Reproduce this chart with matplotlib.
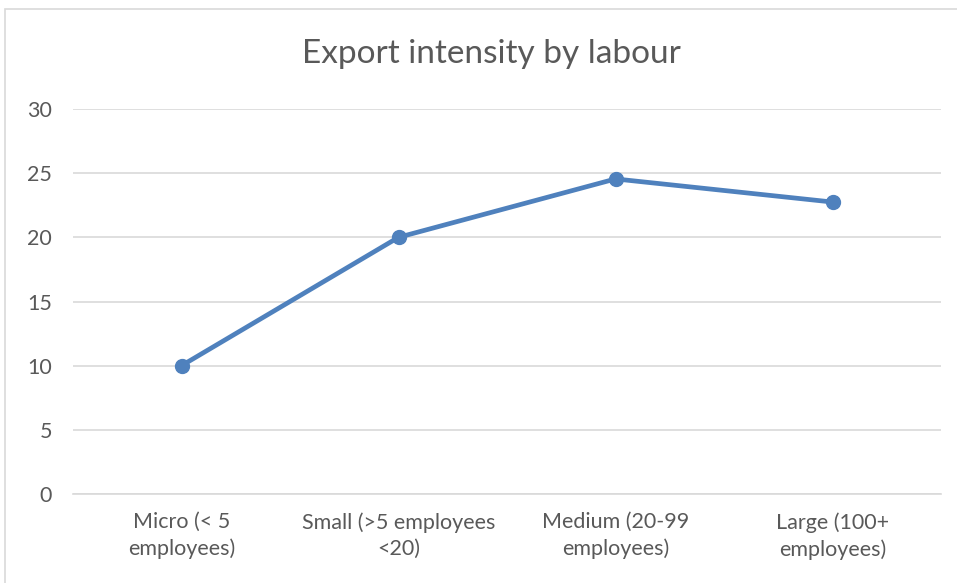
import matplotlib
matplotlib.use("Agg")
import matplotlib.pyplot as plt
from matplotlib.patches import Rectangle

categories = ["Micro (< 5\nemployees)", "Small (>5 employees\n<20)", "Medium (20-99\nemployees)", "Large (100+\nemployees)"]
values = [10.0, 20.0, 24.55, 22.75]
yticks = [0, 5, 10, 15, 20, 25, 30]

plt.rcParams['font.family'] = ['Lato', 'DejaVu Sans']
fig = plt.figure(figsize=(9.57, 5.83), dpi=100)
ax = fig.add_axes([73/957, (583-494)/583, (941-73)/957, (494-109)/583])

fig.patches.append(Rectangle((5/957, -0.1), 1.2, 1.1 - 9/583, transform=fig.transFigure,
                             fill=False, edgecolor='#D9D9D9', linewidth=1.2))

x = list(range(len(categories)))
ax.plot(x, values, color='#4F81BD', linewidth=3.4, marker='o', markersize=10,
        solid_capstyle='round', zorder=3)

ax.set_xlim(-0.5, len(categories) - 0.5)
ax.set_ylim(0, 30)
ax.set_yticks(yticks)
ax.set_xticks(x)
ax.set_xticklabels(categories, fontsize=15.5, color='#595959', linespacing=1.4)
ax.tick_params(axis='both', length=0, labelsize=15.5, labelcolor='#595959')
ax.tick_params(axis='y', pad=15)
ax.tick_params(axis='x', pad=13)
ax.grid(axis='y', color='#D9D9D9', linewidth=1.2)
ax.set_axisbelow(True)
for s in ['top', 'right', 'left']:
    ax.spines[s].set_visible(False)
ax.spines['bottom'].set_color('#D9D9D9')
ax.spines['bottom'].set_linewidth(1.2)

fig.text(491/957, 1 - 54/583, "Export intensity by labour", ha='center', va='center',
         fontsize=24, color='#595959')

fig.savefig("out.png", dpi=100)
